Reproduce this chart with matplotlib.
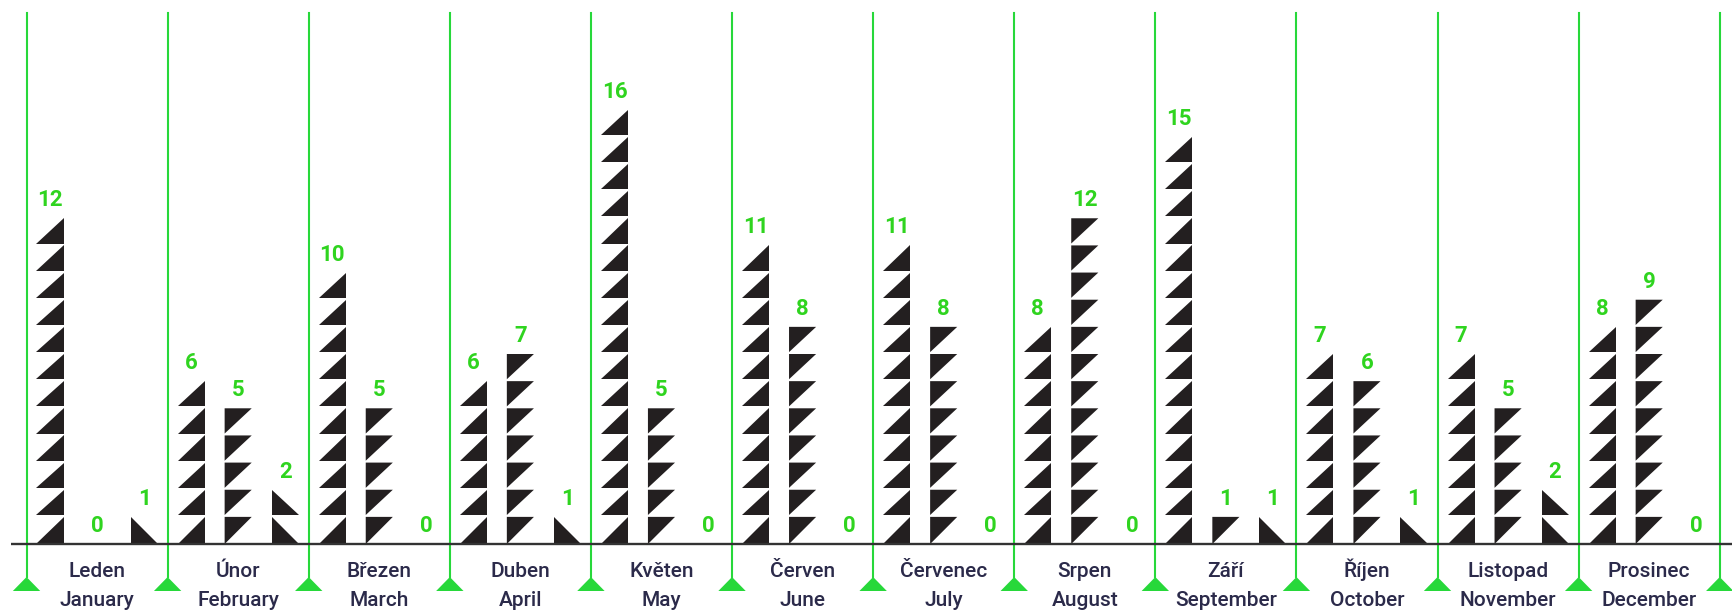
import matplotlib
matplotlib.use("Agg")
import matplotlib.pyplot as plt
from matplotlib.patches import Polygon

months_cz = ["Leden", "Únor", "Březen", "Duben", "Květen", "Červen",
             "Červenec", "Srpen", "Září", "Říjen", "Listopad", "Prosinec"]
months_en = ["January", "February", "March", "April", "May", "June",
             "July", "August", "September", "October", "November", "December"]
series_a = [12, 6, 10, 6, 16, 11, 11, 8, 15, 7, 7, 8]
series_b = [0, 5, 5, 7, 5, 8, 8, 12, 1, 6, 5, 9]
series_c = [1, 2, 0, 1, 0, 0, 0, 0, 1, 1, 2, 0]

GREEN = "#27d83a"
NUM_GREEN = "#2fd41f"
DARK = "#231f20"
TEXT = "#2b2a4a"

fig = plt.figure(figsize=(17.33, 6.10), dpi=100)
ax = fig.add_axes([0, 0, 1, 1])
ax.set_xlim(-0.188, 12.094)
ax.set_ylim(-2.43, 20.04)
ax.axis("off")

n = len(months_cz)
hw = 0.096   # half width of triangle
gap = 0.07


def tri(kind, xc, y0, y1):
    l, r = xc - hw, xc + hw
    if kind == 0:      # right angle bottom-right
        pts = [(l, y0), (r, y0), (r, y1)]
    elif kind == 1:    # right angle top-left
        pts = [(l, y1), (r, y1), (l, y0)]
    else:              # right angle bottom-left
        pts = [(l, y1), (l, y0), (r, y0)]
    return Polygon(pts, closed=True, facecolor=DARK, edgecolor="none", zorder=3)


for i in range(n):
    vals = [series_a[i], series_b[i], series_c[i]]
    for j, v in enumerate(vals):
        xc = i + (j + 0.5) / 3
        for k in range(v):
            y0 = k + (gap if k > 0 else 0)
            ax.add_patch(tri(j, xc, y0, k + 1))
        ax.text(xc, v + 0.44, str(v), ha="center", va="baseline",
                color=NUM_GREEN, fontsize=16, fontweight="bold",
                family="Roboto", zorder=4)
    ax.text(i + 0.5, -1.215, months_cz[i], ha="center", va="baseline",
            color=TEXT, fontsize=15, fontweight="medium", family="Roboto", zorder=4)
    ax.text(i + 0.5, -2.28, months_en[i], ha="center", va="baseline",
            color=TEXT, fontsize=15, fontweight="medium", family="Roboto", zorder=4)

# axis baseline
ax.plot([-0.11, 12.2], [0, 0], color="#333333", lw=1.7, zorder=5,
        solid_capstyle="butt")

# green separators with triangles
for i in range(n + 1):
    ax.plot([i, i], [-1.215, 19.56], color=GREEN, lw=1.5, zorder=2)
    ax.add_patch(Polygon([(i - 0.097, -1.73), (i + 0.097, -1.73), (i, -1.215)],
                         closed=True, facecolor=GREEN, edgecolor="none", zorder=2))

fig.savefig("out.png", dpi=100)
